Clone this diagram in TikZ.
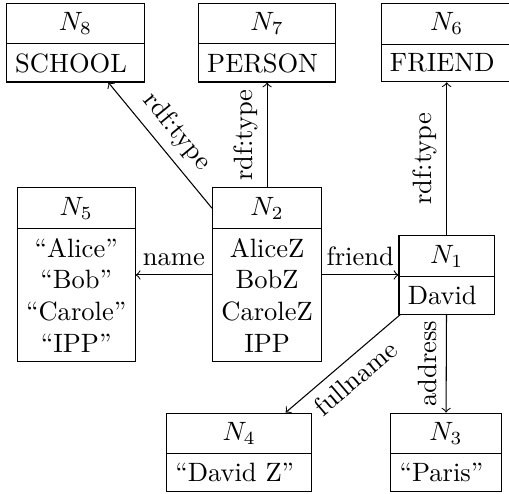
\documentclass[tikz,border=0pt]{standalone}
\usetikzlibrary{shapes.multipart}

\tikzset{
  resnode/.style={draw, rectangle split, rectangle split parts=2, align=center}
}

\begin{document}
\begin{tikzpicture}[>=to]
  \useasboundingbox (0,0) rectangle (6.746,6.534);
  % type nodes
  \node[resnode] (n8) at (1.00,5.97) {$N_8$ \nodepart{two} SCHOOL };
  \node[resnode] (n7) at (3.54,5.97) {$N_7$ \nodepart{two} PERSON };
  \node[resnode] (n6) at (5.92,5.97) {$N_6$ \nodepart{two} FRIEND };
  % middle row
  \node[resnode] (n5) at (1.01,2.89) {$N_5$ \nodepart{two} ``Alice''\\ ``Bob''\\ ``Carole''\\ ``IPP''};
  \node[resnode] (n2) at (3.54,2.89) {$N_2$ \nodepart{two} AliceZ\\ BobZ\\ CaroleZ\\ IPP};
  \node[resnode] (n1) at (5.92,2.89) {$N_1$ \nodepart{two} David };
  % literals
  \node[resnode] (n4) at (3.17,0.54) {$N_4$ \nodepart{two} ``David Z'' };
  \node[resnode] (n3) at (5.91,0.54) {$N_3$ \nodepart{two} ``Paris'' };

  \draw[->] (n2) -- node[above, sloped] {rdf:type} (n8);
  \draw[->] (n2) -- node[above, sloped] {rdf:type} (n7);
  \draw[->] (n1) -- node[above, sloped] {rdf:type} (n6);
  \draw[->] (n2) -- node[above] {name} (n5);
  \draw[->] (n2) -- node[above] {friend} (n1);
  \draw[->] (n1) -- node[below, sloped] {fullname} (n4);
  \draw[->] (n1) -- node[above, sloped] {address} (n3);
\end{tikzpicture}
\end{document}
